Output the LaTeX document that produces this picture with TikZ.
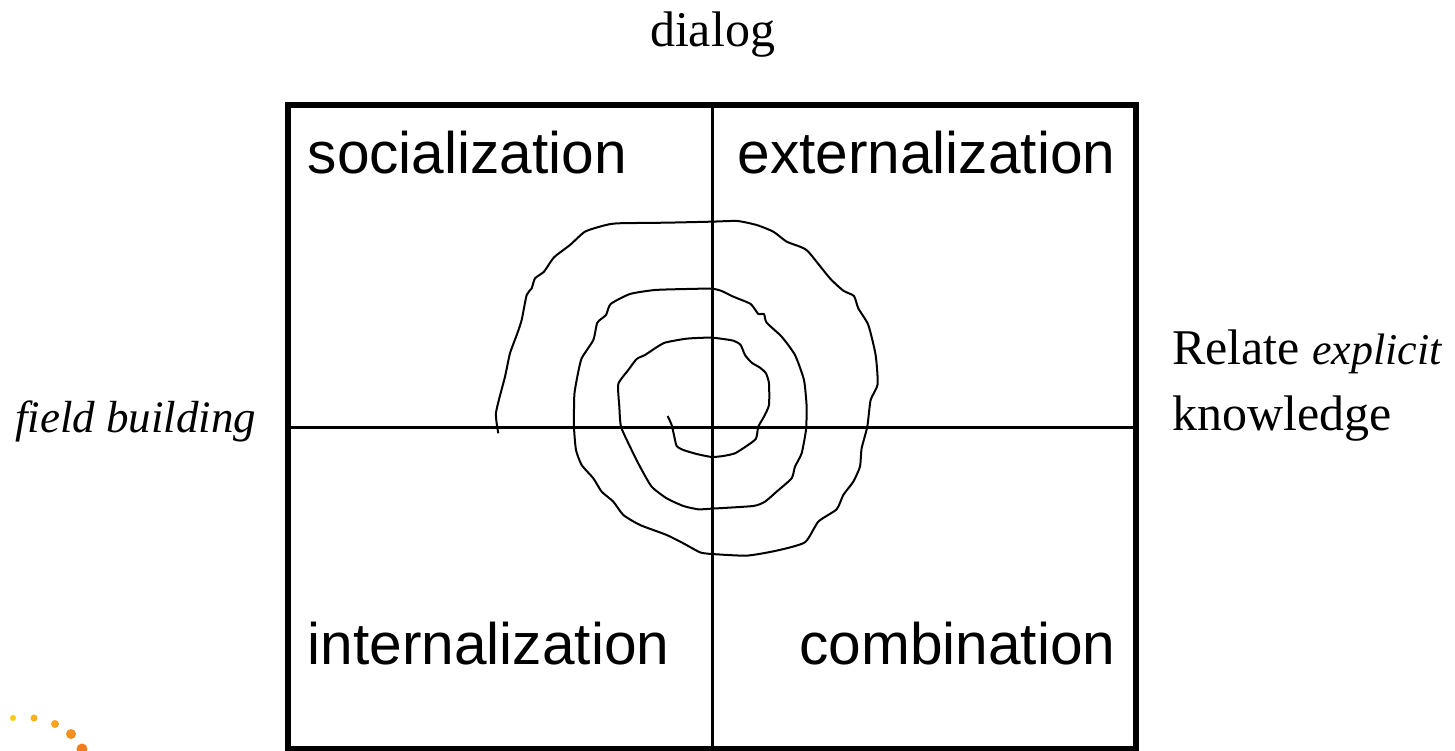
\documentclass[tikz,border=0pt]{standalone}
\usepackage{fontspec}
\setmainfont{Liberation Serif}
\setsansfont{Liberation Sans}
\usepackage{tikz}
\usetikzlibrary{positioning}
\usepackage{xcolor}
\definecolor{dotA}{HTML}{FFC90E}
\definecolor{dotB}{HTML}{FBB117}
\definecolor{dotC}{HTML}{F9A51C}
\definecolor{dotD}{HTML}{F58E20}
\definecolor{dotE}{HTML}{EF7D1E}

\begin{document}
\begin{tikzpicture}[x=1pt, y=-1pt,
    quadlabel/.style={font=\fontsize{58.6}{64}\selectfont\sffamily, inner sep=0pt},
    sidelabel/.style={font=\fontsize{50}{66}\selectfont, inner sep=0pt, align=left},
    frameline/.style={draw=black, line width=6pt},
    crossline/.style={draw=black, line width=3pt},
    spiralline/.style={draw=black, line width=2pt, line join=round}]
    \useasboundingbox (0,0) rectangle (1455,750);

    \clip (0,0) rectangle (1455,750);

    \node[frameline, minimum width=848pt, minimum height=643.7pt, inner sep=0pt, outer sep=0pt] (frame) at (712,427) {};
    \draw[crossline] (frame.north) -- (frame.south);
    \draw[crossline] (frame.west) -- (frame.east);

    % quadrant names
    \node[quadlabel, anchor=base west] (social) at (307.5,173) {socialization};
    \node[quadlabel, anchor=base east] (extern) at (1115.5,173) {externalization};
    \node[quadlabel, anchor=base west] (intern) at (307.5,664) {internalization};
    \node[quadlabel, anchor=base east] (combin) at (1115.5,664) {combination};

    % outer labels
    \node[sidelabel, anchor=base] (dialog) at (712.5,46) {dialog};
    \node[sidelabel, anchor=base west, font=\fontsize{45}{50}\selectfont\itshape] (field) at (15,432) {field building};
    \node[sidelabel, anchor=west] (relate) at (1172,386) {Relate {\fontsize{44}{66}\selectfont\itshape explicit}\\knowledge};

    % hand drawn spiral, numbers read off the 3x crop
    \begin{scope}[shift={(480,200)}, x=0.3333pt, y=-0.3333pt]
      \draw[spiralline] plot[smooth, tension=0.35] coordinates {
        (563,648) (575,675) (582,705) (590,738) (610,750) (650,762) (695,771)
        (730,768) (765,760) (800,738) (828,716) (835,680) (852,650) (867,615)
        (867,550) (858,520) (840,503) (815,488) (795,465) (782,435) (760,422)
        (695,413) (620,416) (555,428) (525,445) (495,465) (470,477) (445,510)
        (415,552) (418,620) (423,680) (450,740) (480,800) (515,860) (560,895)
        (610,918) (655,928) (695,926) (820,918) (855,905) (890,875) (935,835)
        (945,800) (965,760) (978,690) (980,620) (972,540) (945,465) (905,410)
        (860,368) (852,342) (835,342) (812,312) (760,290) (725,273) (695,266)
        (620,267) (525,270) (450,282) (392,312) (378,345) (352,368) (340,420)
        (305,475) (292,530) (283,585) (282,680) (288,750) (305,795) (340,835)
        (365,875) (400,905) (430,945) (480,975) (560,1005) (610,1030) (660,1057)
        (695,1062) (800,1067) (890,1052) (975,1027) (1015,965) (1070,928)
        (1090,885) (1120,845) (1140,800) (1145,745) (1162,680) (1172,600)
        (1193,553) (1187,465) (1165,375) (1135,325) (1122,288) (1090,272)
        (1050,235) (985,155) (960,140) (920,125) (880,95) (830,75) (772,63)
        (695,65) (560,68) (412,70) (370,77) (315,95) (270,135) (222,172)
        (192,215) (165,235) (155,265) (140,285) (125,360) (112,400) (90,460)
        (75,530) (48,638) (55,700)};
    \end{scope}

    % corner of the logo
    \foreach \px/\py/\rad/\col in {13/718/3/dotA, 34/718/3.5/dotB, 55/724/4/dotC, 71/734/5/dotD, 82/749/5.5/dotE}
      \fill[\col] (\px,\py) circle[radius=\rad pt];
\end{tikzpicture}
\end{document}
